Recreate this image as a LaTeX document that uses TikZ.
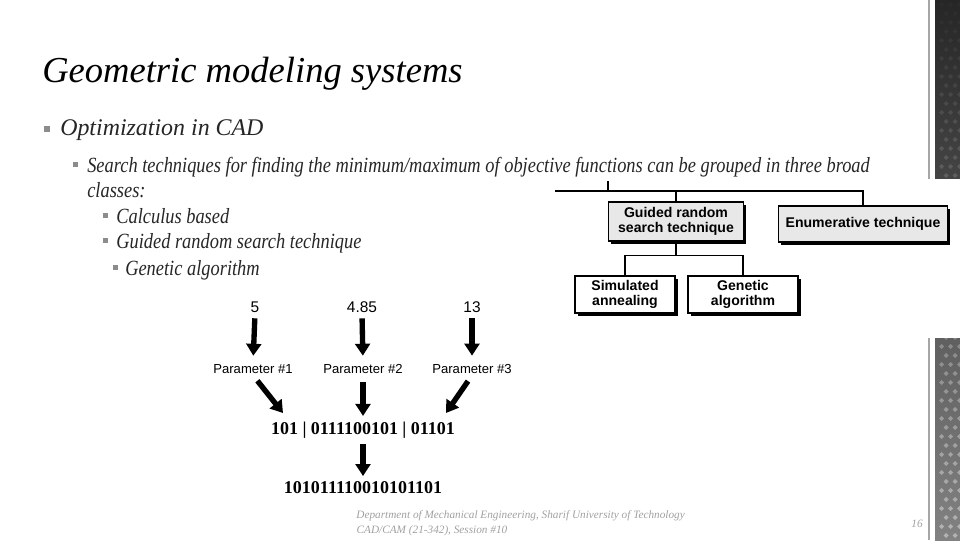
\documentclass[tikz,border=0pt]{standalone}
\usepackage{fontspec}
\setmainfont{Liberation Serif}
\newfontfamily\condserif[FakeStretch=0.85]{Liberation Serif}
\newfontfamily\arialfont{Liberation Sans}
\usetikzlibrary{arrows.meta,positioning,shadows}
\definecolor{bulletgray}{RGB}{140,140,140}
\definecolor{footgray}{RGB}{160,160,160}
\definecolor{stripdark}{RGB}{38,38,38}
\definecolor{striplight}{RGB}{130,130,130}
\definecolor{boxfill}{RGB}{232,232,232}
\tikzset{
  treebox/.style={draw, line width=1pt, align=center, inner sep=0pt,
    font=\arialfont\bfseries\fontsize{10}{11}\selectfont,
    drop shadow={shadow xshift=1.8pt, shadow yshift=-1.8pt, fill=black, opacity=1}},
  treeline/.style={line width=0.8pt},
  fatarrow/.style={line width=3.8pt, -{Triangle[width=10.5pt,length=8.5pt]}},
  valnum/.style={font=\arialfont\fontsize{11}{13}\selectfont, inner sep=1pt},
  paramlbl/.style={font=\arialfont\fontsize{9.3}{11}\selectfont, inner sep=1pt},
  binstr/.style={font=\bfseries\fontsize{12.8}{14}\selectfont, inner sep=1pt},
  bodyline/.style={anchor=base west, inner sep=0pt, font=\condserif\itshape\fontsize{15.4}{18}\selectfont, text=black!85}
}
\begin{document}
\begin{tikzpicture}[x=0.025cm, y=-0.025cm]
  \useasboundingbox (0,0) rectangle (960,540);
  % Right decoration strip
  \draw[gray!70, line width=1.2pt] (929,0) -- (929,540);
  \shade[top color=stripdark, bottom color=striplight] (935,0) rectangle (960,540);
  \foreach \r [evaluate=\r as \op using 0.02+\r*0.0065] in {0,...,59}
    \foreach \c in {0,1,2}
      \fill[white, opacity=\op] ({939+\c*9+mod(\r,2)*4.5},{\r*9+4.5}) -- ++(2.6,-2.6) -- ++(2.6,2.6) -- ++(-2.6,2.6) -- cycle;
  % Title
  \node[anchor=base west, inner sep=0pt, font=\fontsize{26}{30}\selectfont\itshape] (title) at (42,82) {Geometric modeling systems};
  % Bullets
  \fill[bulletgray] (44,126) rectangle (50,132);
  \node[anchor=base west, inner sep=0pt, font=\fontsize{17}{20}\selectfont\itshape, text=black!85] (opt) at (60,135) {Optimization in CAD};
  \fill[bulletgray] (73,162) rectangle (77.5,166.5);
  \node[bodyline] (search) at (87,172) {Search techniques for finding the minimum/maximum of objective functions can be grouped in three broad};
  \node[bodyline] (classes) at (87,197) {classes:};
  \fill[bulletgray] (103,213) rectangle (107.5,217.5);
  \node[bodyline] (calc) at (116,223) {Calculus based};
  \fill[bulletgray] (103,238) rectangle (107.5,242.5);
  \node[bodyline] (guidedtxt) at (116,248) {Guided random search technique};
  \fill[bulletgray] (113,265) rectangle (117.5,269.5);
  \node[bodyline] (gatxt) at (125,275) {Genetic algorithm};
  % Classification tree
  \fill[white] (550,179) rectangle (960,338);
  \node[treebox, fill=boxfill, minimum width=3.375cm, minimum height=0.975cm] (guided) at (676,221.5) {Guided random\\search technique};
  \node[treebox, fill=boxfill, minimum width=4.225cm, minimum height=0.9cm] (enum) at (863,224) {Enumerative technique};
  \node[treebox, fill=white, minimum width=2.5cm, minimum height=0.925cm] (simann) at (625,294.5) {Simulated\\annealing};
  \node[treebox, fill=white, minimum width=2.75cm, minimum height=0.925cm] (genalg) at (743,294.5) {Genetic\\algorithm};
  \coordinate (bus) at (555,191);
  \coordinate (stub) at (608,181);
  \draw[treeline] (bus) -- (bus -| enum.north) -- (enum.north);
  \draw[treeline] (stub) -- (stub |- bus);
  \draw[treeline] (bus -| guided.north) -- (guided.north);
  \draw[treeline] (guided.south) -- ++(0,14) coordinate (split) -| (simann.north);
  \draw[treeline] (split) -| (genalg.north);
  % Encoding of parameters
  \node[valnum] (v1) at (255,307) {5};
  \node[valnum] (v2) at (362,307) {4.85};
  \node[valnum] (v3) at (472,307) {13};
  \node[paramlbl] (p1) at (253,369) {Parameter \#1};
  \node[paramlbl] (p2) at (363,369) {Parameter \#2};
  \node[paramlbl] (p3) at (472,369) {Parameter \#3};
  \node[binstr] (code) at (363,430) {101 | 0111100101 | 01101};
  \node[binstr] (chrom) at (363,488) {101011110010101101};
  \coordinate (c1) at (283,413);
  \coordinate (c3) at (446,413);
  \foreach \i in {1,2,3}
    \draw[fatarrow, shorten <=3pt, shorten >=5pt] (v\i.south) -- (p\i.north);
  \draw[fatarrow, shorten <=5pt] (p1.south) -- (c1);
  \draw[fatarrow, shorten <=5pt, shorten >=3pt] (p2.south) -- (code.north);
  \draw[fatarrow, shorten <=5pt] (p3.south) -- (c3);
  \draw[fatarrow, shorten <=3pt, shorten >=3pt] (code.south) -- (chrom.north);
  % Footer
  \node[anchor=base east, inner sep=0pt, font=\itshape\fontsize{8}{9.5}\selectfont, text=footgray] (foot1) at (685,518) {Department of Mechanical Engineering, Sharif University of Technology};
  \node[anchor=base, inner sep=0pt, font=\itshape\fontsize{8}{9.5}\selectfont, text=footgray] (foot2) at (432,533) {CAD/CAM (21-342), Session \#10};
  \node[anchor=base, inner sep=0pt, font=\itshape\fontsize{8}{9.5}\selectfont, text=footgray] (pageno) at (917,527) {16};
\end{tikzpicture}
\end{document}
